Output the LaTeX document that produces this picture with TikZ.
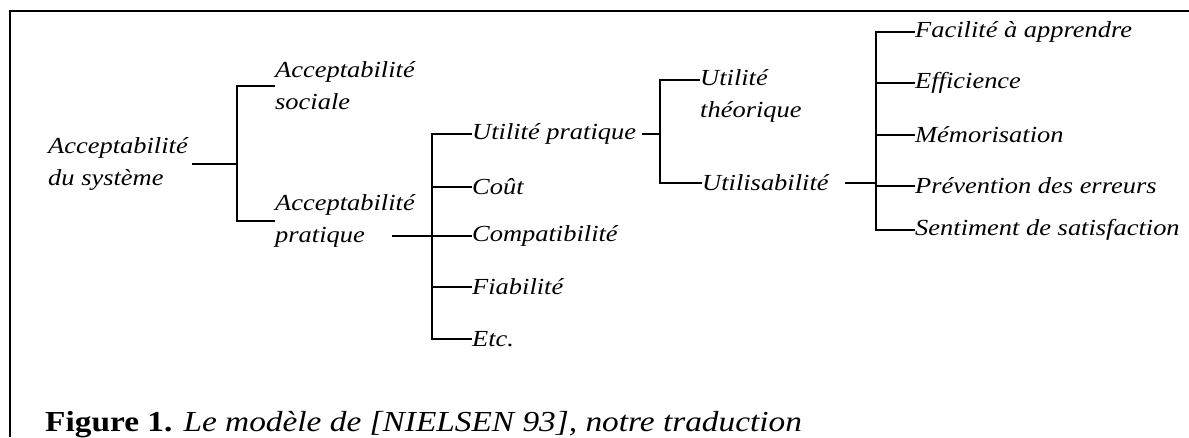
\documentclass[tikz,border=0pt]{standalone}
\usepackage{fontspec}
\setmainfont{Liberation Serif}[FakeStretch=1.15]
\usepackage{tikz}
\usetikzlibrary{positioning,calc}
\tikzstyle{crit} = [inner sep=0pt, align=left, anchor=west,
font=\itshape\fontsize{23}{32}\selectfont]
\tikzstyle{line} = [draw, line width=1.6pt]

\begin{document}
\begin{tikzpicture}[x=1pt, y=-1pt]
    \useasboundingbox (0,0) rectangle (1189,437);
    % frame
    \draw [line width=2.6pt] (10,437) -- (10,11) -- (1189,11);

    % nodes
    \node [crit] (sys) at (48,164) {Acceptabilité\\du système};
    \node [crit] (soc) at (275,86) {Acceptabilité\\sociale};
    \node [crit] (prat) at (275,221) {Acceptabilité\\pratique};
    \node [crit] (up) at (472,134) {Utilité pratique};
    \node [crit] (cout) at (472,187) {Coût};
    \node [crit] (compat) at (472,236) {Compatibilité};
    \node [crit] (fiab) at (472,287) {Fiabilité};
    \node [crit] (etc) at (472,339) {Etc.};
    \node [crit] (uth) at (700,96) {Utilité\\théorique};
    \node [crit] (usab) at (702,183) {Utilisabilité};
    \node [crit] (fac) at (915,32) {Facilité à apprendre};
    \node [crit] (eff) at (915,83) {Efficience};
    \node [crit] (mem) at (915,135) {Mémorisation};
    \node [crit] (prev) at (915,186) {Prévention des erreurs};
    \node [crit] (sent) at (915,230) {Sentiment de satisfaction};
    \node [anchor=base west, inner sep=0pt, font=\fontsize{29}{34}\selectfont] (cap) at (45,431)
        {\textbf{Figure 1.} \textit{Le modèle de [NIELSEN 93], notre traduction}};

    % junctions
    \coordinate (j1) at (237,164);
    \coordinate (j2) at (432,236);
    \coordinate (j3) at (660,134);
    \coordinate (j4) at (876,186);
    \coordinate (pratout) at (392,236);
    \coordinate (uthtop) at ($(uth.west)+(0,-16)$);

    % edges
    \path [line] ([xshift=4pt]sys.east) -- (j1);
    \path [line] (soc.west) -- (soc.west -| j1) -- (prat.west -| j1) -- (prat.west);

    \path [line] (pratout) -- (j2);
    \path [line] (up.west) -- (up.west -| j2) -- (etc.west -| j2) -- (etc.west);
    \path [line] (cout.west -| j2) -- (cout.west);
    \path [line] (compat.west -| j2) -- (compat.west);
    \path [line] (fiab.west -| j2) -- (fiab.west);

    \path [line] ([xshift=6pt]up.east) -- (j3);
    \path [line] (uthtop) -- (uthtop -| j3) -- (usab.west -| j3) -- (usab.west);

    \path [line] ([xshift=16pt]usab.east) -- (usab.east -| j4);
    \path [line] (fac.west) -- (fac.west -| j4) -- (sent.west -| j4) -- (sent.west);
    \path [line] (eff.west -| j4) -- (eff.west);
    \path [line] (mem.west -| j4) -- (mem.west);
    \path [line] (prev.west -| j4) -- (prev.west);

\end{tikzpicture}
\end{document}
